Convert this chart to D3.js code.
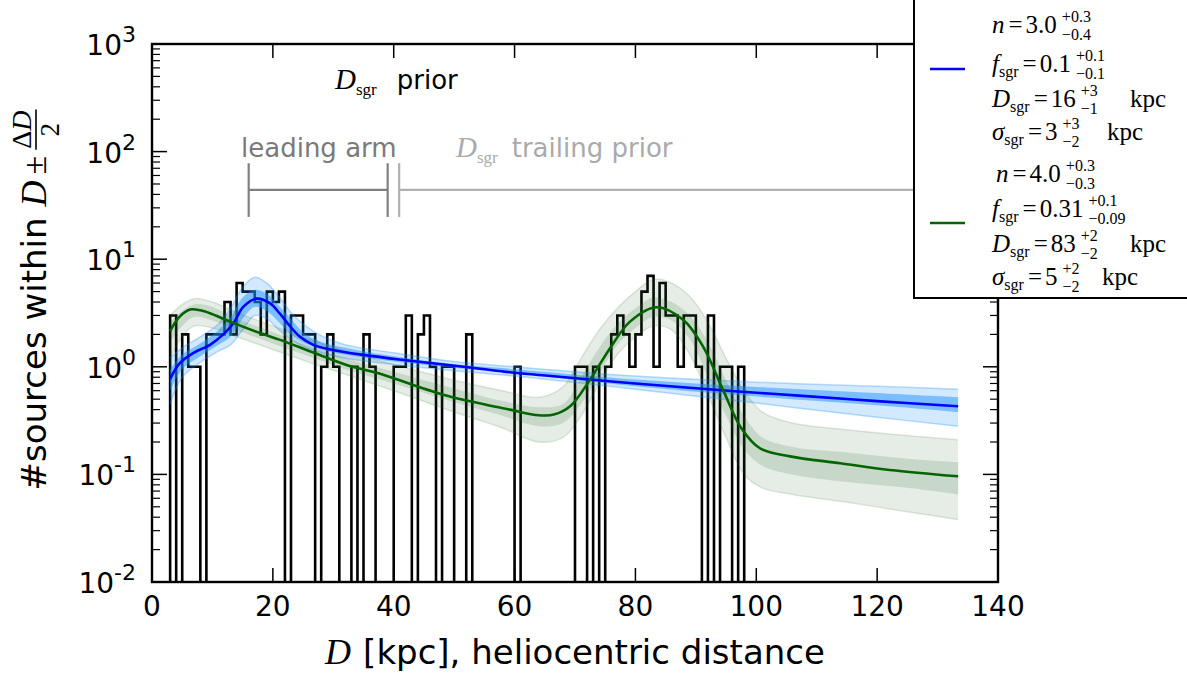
<!DOCTYPE html>
<html><head><meta charset="utf-8">
<script src="https://cdn.jsdelivr.net/npm/d3@7"></script>
<style>body{margin:0;background:#fff;} svg{display:block;} text{white-space:pre;}</style>
</head><body>
<svg id="c" width="1187" height="677"></svg>
<script>
// ---------------- DATA ----------------
// histogram: counts per 1-kpc bin, bins start at 0 kpc
const binStart = 0;
const binWidth = 1;
const counts = [0,0,0,3,0,2,1,1,0,2, 2,2,4,2,6,5,5,4,2,5, 4,5,0,3,3,2,2,0,1,2,
                1,0,0,1,0,2,1,0,0,0, 1,1,3,0,2,3,1,0,1,1, 0,0,2,0,0,0,0,0,0,0,
                1,0,0,0,0,0,0,0,0,0, 1,1,0,1,0,1,2,3,2,1, 2,5,7,1,6,3,3,1,3,3,
                1,0,3,0,1,1,0,1,0,0];

// best-fit model 1 (blue)
const blueFitD = [3, 4.6, 6.8, 9.6, 11.8, 13.5, 15.1, 17.3, 19.5, 21.2, 22.8, 24.5, 26.7, 29.5, 35, 42, 53, 60, 66, 80, 97, 107, 120, 133.4];
const blueFitN = [0.77, 1.08, 1.34, 1.6, 2.0, 2.55, 3.6, 4.3, 3.9, 3.1, 2.4, 1.9, 1.6, 1.45, 1.29, 1.15, 0.98, 0.88, 0.82, 0.70, 0.59, 0.54, 0.48, 0.43];

// best-fit model 2 (green)
const greenFitD = [3, 4.5, 6.3, 8, 9.6, 12.9, 17.9, 21.2, 26.7, 32.2, 37.5, 48.2, 59.2, 64, 66.5, 69.2, 72.5, 75.8, 79.1, 83.5, 87.9, 91.2, 94.5, 97.5, 100.6, 105.6, 113.9, 122.1, 133.4];
const greenFitN = [2.15, 2.9, 3.4, 3.35, 3.15, 2.63, 2.06, 1.78, 1.36, 1.04, 0.87, 0.55, 0.40, 0.355, 0.36, 0.43, 0.76, 1.49, 2.63, 3.58, 2.73, 1.54, 0.61, 0.27, 0.175, 0.147, 0.127, 0.110, 0.096];

// posterior sample spread (blue): outer and inner envelopes
const blueBandD   = [3, 5, 8, 11, 13, 15, 17, 19, 21, 23, 25, 28, 32, 40, 50, 60, 80, 100, 120, 133.4];
const blueOuterLo = [0.45, 0.8, 1.1, 1.4, 1.6, 2.2, 3.0, 2.8, 2.2, 1.8, 1.55, 1.35, 1.2, 1.05, 0.92, 0.82, 0.62, 0.46, 0.34, 0.28];
const blueOuterHi = [1.2, 1.5, 1.9, 2.5, 3.5, 5.5, 6.8, 6.0, 4.5, 3.2, 2.5, 1.95, 1.6, 1.35, 1.12, 1.0, 0.82, 0.72, 0.66, 0.62];
const blueInnerLo = [0.6, 0.95, 1.25, 1.6, 1.9, 2.8, 3.6, 3.3, 2.6, 2.0, 1.7, 1.45, 1.3, 1.12, 0.98, 0.87, 0.66, 0.53, 0.44, 0.38];
const blueInnerHi = [0.95, 1.3, 1.65, 2.2, 2.9, 4.4, 5.2, 4.8, 3.7, 2.8, 2.1, 1.7, 1.5, 1.25, 1.06, 0.95, 0.76, 0.65, 0.57, 0.52];

// posterior sample spread (green)
const greenBandD   = [3, 5, 7, 10, 14, 20, 26, 32, 40, 50, 58, 64, 68, 71, 74, 77, 80, 83, 86, 89, 92, 95, 98, 101, 106, 115, 125, 133.4];
const greenOuterLo = [1.2, 1.9, 2.4, 2.3, 1.9, 1.45, 1.1, 0.85, 0.6, 0.38, 0.27, 0.2, 0.22, 0.35, 0.7, 1.3, 1.9, 2.4, 2.2, 1.3, 0.55, 0.22, 0.1, 0.075, 0.065, 0.055, 0.045, 0.038];
const greenOuterHi = [3.0, 3.8, 4.3, 4.0, 3.2, 2.4, 1.8, 1.4, 1.05, 0.75, 0.6, 0.52, 0.65, 1.2, 2.2, 3.5, 5.0, 6.5, 6.0, 4.5, 2.6, 1.2, 0.6, 0.38, 0.3, 0.26, 0.23, 0.21];
const greenInnerLo = [1.7, 2.4, 2.9, 2.7, 2.2, 1.65, 1.25, 0.95, 0.7, 0.47, 0.35, 0.28, 0.3, 0.45, 0.85, 1.6, 2.3, 2.9, 2.7, 1.8, 0.8, 0.35, 0.17, 0.12, 0.1, 0.085, 0.075, 0.065];
const greenInnerHi = [2.6, 3.3, 3.8, 3.6, 2.8, 2.1, 1.55, 1.2, 0.9, 0.63, 0.48, 0.42, 0.45, 0.8, 1.5, 2.5, 3.5, 4.4, 4.0, 3.0, 1.7, 0.75, 0.35, 0.22, 0.18, 0.16, 0.14, 0.13];

// axis ticks
const xTicks = [0, 20, 40, 60, 80, 100, 120, 140];
const yTickExps = [-2, -1, 0, 1, 2, 3];

// prior annotations (kpc, counts)
const leadingArm = {from: 16, to: 39, level: 44, capLo: 24.7, capHi: 78};
const trailingArm = {from: 40.9, to: 140, level: 44, capLo: 24.7, capHi: 78};

// legend entries
const legendBlue = [
  {name:'n', sub:'', val:'3.0', plus:'+0.3', minus:'\u22120.4', unit:''},
  {name:'f', sub:'sgr', val:'0.1', plus:'+0.1', minus:'\u22120.1', unit:''},
  {name:'D', sub:'sgr', val:'16', plus:'+3', minus:'\u22121', unit:'kpc'},
  {name:'\u03C3', sub:'sgr', val:'3', plus:'+3', minus:'\u22122', unit:'kpc'}];
const legendGreen = [
  {name:'n', sub:'', val:'4.0', plus:'+0.3', minus:'\u22120.3', unit:''},
  {name:'f', sub:'sgr', val:'0.31', plus:'+0.1', minus:'\u22120.09', unit:''},
  {name:'D', sub:'sgr', val:'83', plus:'+2', minus:'\u22122', unit:'kpc'},
  {name:'\u03C3', sub:'sgr', val:'5', plus:'+2', minus:'\u22122', unit:'kpc'}];

// ---------------- DRAWING ----------------
const svg = d3.select('#c');
const L = 152, R = 998, T = 44, B = 582;
const x = d3.scaleLinear().domain([0, 140]).range([L, R]);
const y = d3.scaleLog().domain([1e-2, 1e3]).range([B, T]);
const SANS = "'DejaVu Sans', sans-serif";
const SERIF = "'Liberation Serif', 'DejaVu Serif', serif";

svg.append('defs').append('clipPath').attr('id', 'clip')
  .append('rect').attr('x', L).attr('y', T).attr('width', R - L).attr('height', B - T);
const plot = svg.append('g').attr('clip-path', 'url(#clip)');

// histogram (step)
const yc = c => c > 0 ? y(c) : B + 10;
const histPts = [[x(binStart), B + 10]];
counts.forEach((c, i) => {
  const e0 = binStart + i * binWidth, e1 = e0 + binWidth;
  histPts.push([x(e0), yc(c)]);
  histPts.push([x(e1), yc(c)]);
});
histPts.push([x(binStart + counts.length * binWidth), B + 10]);
plot.append('path').attr('d', d3.line()(histPts))
  .attr('fill', 'none').attr('stroke', '#000').attr('stroke-width', 2.6).attr('stroke-linejoin', 'miter');

// bands
function band(D, lo, hi, fill, op) {
  const a = d3.area().x((d, i) => x(D[i])).y0((d, i) => y(lo[i])).y1((d, i) => y(hi[i]))
    .curve(d3.curveCatmullRom.alpha(0.5));
  plot.append('path').attr('d', a(D)).attr('fill', fill).attr('fill-opacity', op);
}
function edge(D, v, col, op, w) {
  const l = d3.line().x((d, i) => x(D[i])).y((d, i) => y(v[i])).curve(d3.curveCatmullRom.alpha(0.5));
  plot.append('path').attr('d', l(D)).attr('fill', 'none').attr('stroke', col).attr('stroke-opacity', op).attr('stroke-width', w);
}
band(blueBandD, blueOuterLo, blueOuterHi, '#1e90ff', 0.2);
band(blueBandD, blueInnerLo, blueInnerHi, '#1e90ff', 0.48);
edge(blueBandD, blueOuterLo, '#1e90ff', 0.3, 1.5);
edge(blueBandD, blueOuterHi, '#1e90ff', 0.3, 1.5);
band(greenBandD, greenOuterLo, greenOuterHi, '#2e6b2e', 0.12);
band(greenBandD, greenInnerLo, greenInnerHi, '#2e6b2e', 0.16);
edge(greenBandD, greenOuterLo, '#2e6b2e', 0.15, 1.5);
edge(greenBandD, greenOuterHi, '#2e6b2e', 0.15, 1.5);

// best fit lines
function fitLine(D, N, col) {
  const l = d3.line().x((d, i) => x(D[i])).y((d, i) => y(N[i])).curve(d3.curveCatmullRom.alpha(0.5));
  plot.append('path').attr('d', l(D)).attr('fill', 'none').attr('stroke', col).attr('stroke-width', 2.6);
}
fitLine(blueFitD, blueFitN, '#0000ff');
fitLine(greenFitD, greenFitN, '#006400');

// prior brackets
function bracket(b, col) {
  const g = plot.append('g').attr('stroke', col).attr('stroke-width', 2.2);
  g.append('line').attr('x1', x(b.from)).attr('x2', x(b.to)).attr('y1', y(b.level)).attr('y2', y(b.level));
  g.append('line').attr('x1', x(b.from)).attr('x2', x(b.from)).attr('y1', y(b.capLo)).attr('y2', y(b.capHi));
  if (b.to < 140) g.append('line').attr('x1', x(b.to)).attr('x2', x(b.to)).attr('y1', y(b.capLo)).attr('y2', y(b.capHi));
}
bracket(leadingArm, '#808080');
bracket(trailingArm, '#b0b0b0');

// helper for math-like text runs
function run(g, x0, base, parts) {
  let cx = x0;
  parts.forEach(p => {
    if (p.gap) { cx += p.gap; return; }
    if (p.at) { cx = p.at; return; }
    if (p.stack) {
      const a = g.append('text').attr('x', cx).attr('y', base - p.up).style('font-family', p.family).style('font-size', p.size + 'px').attr('fill', p.fill || '#000').text(p.stack[0]);
      const b = g.append('text').attr('x', cx).attr('y', base + p.down).style('font-family', p.family).style('font-size', p.size + 'px').attr('fill', p.fill || '#000').text(p.stack[1]);
      cx += Math.max(a.node().getComputedTextLength(), b.node().getComputedTextLength());
      return;
    }
    const t = g.append('text').attr('x', cx).attr('y', base + (p.dy || 0))
      .style('font-family', p.family).style('font-size', p.size + 'px')
      .style('font-style', p.italic ? 'italic' : 'normal').attr('fill', p.fill || '#000').text(p.t);
    cx += t.node().getComputedTextLength();
  });
  return cx;
}

// annotation texts
const ann = svg.append('g');
run(ann, 335, 89, [
  {t:'D', family:SERIF, size:29, italic:true},
  {t:'sgr', family:SERIF, size:17, dy:6},
  {gap:20},
  {t:'prior', family:SANS, size:26}]);
run(ann, 241, 157, [{t:'leading arm', family:SANS, size:26, fill:'#7a7a7a'}]);
run(ann, 456, 157, [
  {t:'D', family:SERIF, size:29, italic:true, fill:'#aaaaaa'},
  {t:'sgr', family:SERIF, size:17, dy:6, fill:'#aaaaaa'},
  {gap:14},
  {t:'trailing prior', family:SANS, size:26, fill:'#aaaaaa'}]);

// axes frame and ticks
const ax = svg.append('g');
ax.append('rect').attr('x', L).attr('y', T).attr('width', R - L).attr('height', B - T)
  .attr('fill', 'none').attr('stroke', '#000').attr('stroke-width', 2.4);
xTicks.forEach(v => {
  ax.append('line').attr('x1', x(v)).attr('x2', x(v)).attr('y1', B).attr('y2', B - 14).attr('stroke', '#000').attr('stroke-width', 1.5);
  ax.append('line').attr('x1', x(v)).attr('x2', x(v)).attr('y1', T).attr('y2', T + 14).attr('stroke', '#000').attr('stroke-width', 1.5);
  ax.append('text').attr('x', x(v)).attr('y', 616).attr('text-anchor', 'middle')
    .style('font-family', SANS).style('font-size', '28px').text(v);
});
yTickExps.forEach(e => {
  const v = Math.pow(10, e);
  [[L, 1], [R, -1]].forEach(([sx, dir]) => {
    ax.append('line').attr('x1', sx).attr('x2', sx + dir * 15).attr('y1', y(v)).attr('y2', y(v)).attr('stroke', '#000').attr('stroke-width', 1.5);
    if (e < 3) for (let k = 2; k <= 9; k++) {
      ax.append('line').attr('x1', sx).attr('x2', sx + dir * 8).attr('y1', y(k * v)).attr('y2', y(k * v)).attr('stroke', '#000').attr('stroke-width', 1.2);
    }
  });
  const t = ax.append('text').attr('x', 136).attr('y', y(v) + 11).attr('text-anchor', 'end')
    .style('font-family', SANS).style('font-size', '28px');
  t.append('tspan').text('10');
  t.append('tspan').attr('dy', -13).style('font-size', '22px').text(e < 0 ? '-' + Math.abs(e) : String(e));
});

// x axis label (centered)
const xl = svg.append('g');
const xlEnd = run(xl, 0, 664, [
  {t:'D', family:SERIF, size:36, italic:true},
  {gap:12},
  {t:'[kpc], heliocentric distance', family:SANS, size:34}]);
xl.attr('transform', `translate(${575 - xlEnd / 2},0)`);

// y axis label (rotated)
const yl = svg.append('g');
const ylIn = yl.append('g');
let u = run(ylIn, 0, 0, [
  {t:'#sources within', family:SANS, size:34},
  {gap:11},
  {t:'D', family:SERIF, size:36, italic:true},
  {gap:6},
  {t:'\u00B1', family:SERIF, size:34},
  {gap:6}]);
const num = ylIn.append('text').attr('x', u + 1).attr('y', -15).style('font-family', SERIF).style('font-size', '28px');
num.append('tspan').text('\u0394');
num.append('tspan').style('font-style', 'italic').text('D');
const nw = num.node().getComputedTextLength();
ylIn.append('line').attr('x1', u).attr('x2', u + nw + 2).attr('y1', -10).attr('y2', -10).attr('stroke', '#000').attr('stroke-width', 1.6);
ylIn.append('text').attr('x', u + nw / 2 + 1).attr('y', 13).attr('text-anchor', 'middle').style('font-family', SERIF).style('font-size', '27px').text('2');
const ylTot = u + nw + 2;
yl.attr('transform', `translate(46, ${300 + ylTot / 2}) rotate(-90)`);

// legend
const lg = svg.append('g');
lg.append('rect').attr('x', 914).attr('y', -3).attr('width', 300).attr('height', 301)
  .attr('fill', '#fff').attr('stroke', '#000').attr('stroke-width', 2);
lg.append('line').attr('x1', 930).attr('x2', 965).attr('y1', 69).attr('y2', 69).attr('stroke', '#0000ff').attr('stroke-width', 2.6);
lg.append('line').attr('x1', 930).attr('x2', 965).attr('y1', 223).attr('y2', 223).attr('stroke', '#006400').attr('stroke-width', 2.6);
function legendRow(r, x0, base, unitX) {
  const parts = [{t:r.name, family:SERIF, size:25, italic:true}];
  if (r.sub) parts.push({t:r.sub, family:SERIF, size:16, dy:5});
  parts.push({gap:4}, {t:'=', family:SERIF, size:25}, {gap:3}, {t:r.val, family:SERIF, size:25}, {gap:5},
    {stack:[r.plus, r.minus], family:SERIF, size:16, up:11, down:7});
  if (r.unit) parts.push({at:unitX}, {t:r.unit, family:SERIF, size:25});
  run(lg, x0, base, parts);
}
const blueBases = [33, 72, 107, 140];
const greenBases = [182, 217, 252, 285];
const unitXBlue = [0, 0, 1130, 1107];
const unitXGreen = [0, 0, 1130, 1102];
legendBlue.forEach((r, i) => legendRow(r, 992, blueBases[i], unitXBlue[i]));
legendGreen.forEach((r, i) => legendRow(r, i === 0 ? 996 : 992, greenBases[i], unitXGreen[i]));
</script>
</body></html>
